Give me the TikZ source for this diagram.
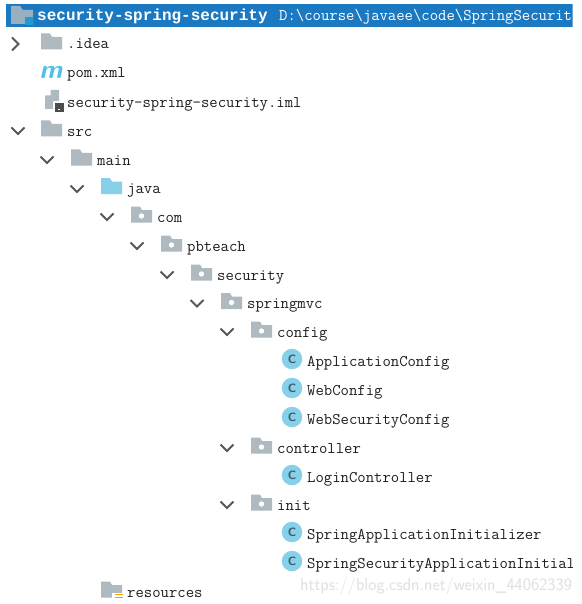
\documentclass[tikz,border=0pt]{standalone}
\usepackage{fontspec}
\setmainfont{Liberation Sans}
\newfontfamily\boldmono{Liberation Mono}
\definecolor{hdr}{HTML}{1B79C2}
\definecolor{fold}{HTML}{AEB9C0}
\definecolor{cyanb}{HTML}{86D0EA}
\definecolor{mvnblue}{HTML}{4FC0E8}
\definecolor{txt}{HTML}{1E1E1E}
\definecolor{chev}{HTML}{55595C}
\definecolor{cletter}{HTML}{3F5A68}
\definecolor{wm}{HTML}{E0E0E0}
\tikzset{
  x=1pt,y=-1pt,
  rowtext/.style={anchor=base west,inner sep=0pt,text=txt,font=\fontsize{16.25}{16}\selectfont\ttfamily},
  hdrtext/.style={anchor=base west,inner sep=0pt,text=white},
  chevron/.style={draw=chev,line width=2.1pt,line cap=butt,line join=miter},
  classdisc/.style={circle,fill=cyanb,inner sep=0pt,minimum size=20.5pt,text=cletter,font=\fontsize{12}{12}\selectfont\sffamily\bfseries},
}
% folder shape: left x, centre y, colour
\newcommand{\folderat}[3]{\fill[#3] (#1,#2-10.5) -- (#1+9,#2-10.5) -- (#1+11,#2-7) -- (#1+21,#2-7) -- (#1+21,#2+5.5) -- (#1,#2+5.5) -- cycle;}
\newcommand{\pkgat}[2]{\folderat{#1}{#2}{fold}\fill[white] (#1+10.5,#2-1) circle (2.7);}
\newcommand{\chevdown}[2]{\draw[chevron] (#1-6.5,#2-3.5) -- (#1,#2+3) -- (#1+6.5,#2-3.5);}
\newcommand{\chevright}[2]{\draw[chevron] (#1-3,#2-6.5) -- (#1+3.5,#2) -- (#1-3,#2+6.5);}
\newcommand{\pkgrow}[4]{\chevdown{#1-24}{#3}\pkgat{#1}{#3}\node[rowtext] (#4) at (#1+26,#3+5) {#2};}
\newcommand{\classrow}[2]{\node[classdisc] (c#2) at (292,#1-2) {C};\node[rowtext] (#2) at (307,#1+5) {#2};}
\begin{document}
\begin{tikzpicture}
\useasboundingbox (0,0) rectangle (581,604);
\fill[white] (0,0) rectangle (581,604);
\begin{scope}
\clip (0,0) rectangle (572.5,598);
% header
\fill[hdr] (6,4) rectangle (572.5,27);
\fill[fold!85!hdr] (11,6) -- (20,6) -- (23,10) -- (33,10) -- (33,24) -- (11,24) -- cycle;
\fill[cyan!60!hdr] (25,17) rectangle (33,25);
\node[hdrtext,font=\fontsize{16}{16}\selectfont\boldmono\bfseries] (title) at (37,20.5) {security-spring-security};
\node[hdrtext,font=\fontsize{16.25}{16}\selectfont\ttfamily] (path) at (279,20.5) {D:\textbackslash course\textbackslash javaee\textbackslash code\textbackslash SpringSecurit};
% idea
\chevright{15}{44}
\folderat{41}{44}{fold}
\node[rowtext] (idea) at (67,49) {.idea};
% pom
\node[anchor=base,inner sep=0pt,text=mvnblue,font=\fontsize{26}{26}\selectfont\sffamily\itshape\bfseries] (mvn) at (51,79) {m};
\node[rowtext] (pom) at (67,78) {pom.xml};
% iml
\fill[fold] (45,96) -- (51,90) -- (59,90) -- (59,109) -- (45,109) -- cycle;
\fill[white] (45,95.5) -- (50.5,95.5) -- (50.5,90) -- cycle;
\fill[white] (53,101) rectangle (65,113);
\fill[black!70] (55,103) rectangle (64,112);
\fill[white] (58,109) rectangle (60,110);
\node[rowtext] (iml) at (67,107.5) {security-spring-security.iml};
% src
\chevdown{18}{131}
\folderat{41}{131}{fold}
\node[rowtext] (src) at (67,136.5) {src};
% main
\chevdown{47}{160}
\folderat{71}{160}{fold}
\node[rowtext] (main) at (97,165) {main};
% java
\chevdown{77}{189}
\folderat{101}{188.5}{cyanb}
\node[rowtext] (java) at (127,193.5) {java};
% packages
\pkgrow{131}{com}{217}{com}
\pkgrow{161}{pbteach}{246}{pbteach}
\pkgrow{191}{security}{275}{security}
\pkgrow{221}{springmvc}{303.5}{springmvc}
\pkgrow{251}{config}{332}{config}
\classrow{361}{ApplicationConfig}
\classrow{390}{WebConfig}
\classrow{419}{WebSecurityConfig}
\pkgrow{251}{controller}{448}{controller}
\classrow{477}{LoginController}
\pkgrow{251}{init}{505}{init}
\classrow{534}{SpringApplicationInitializer}
\node[classdisc] (csec) at (292,561) {C};
\node[rowtext] (sec) at (307,568) {SpringSecurityApplicationInitial};
% resources
\folderat{101}{592}{fold}
\fill[white] (112,593) rectangle (124,604);
\foreach \yy in {594,596.8} \fill[orange!80!yellow] (114.5,\yy) rectangle (123,\yy+1.3);
\node[rowtext] (res) at (127,597) {resources};
\end{scope}
% watermark
\node[anchor=west,inner sep=0pt,text=wm,font=\fontsize{17.4}{17}\selectfont\sffamily] (mark) at (300,586) {https://blog.csdn.net/weixin\_44062339};
\end{tikzpicture}
\end{document}
